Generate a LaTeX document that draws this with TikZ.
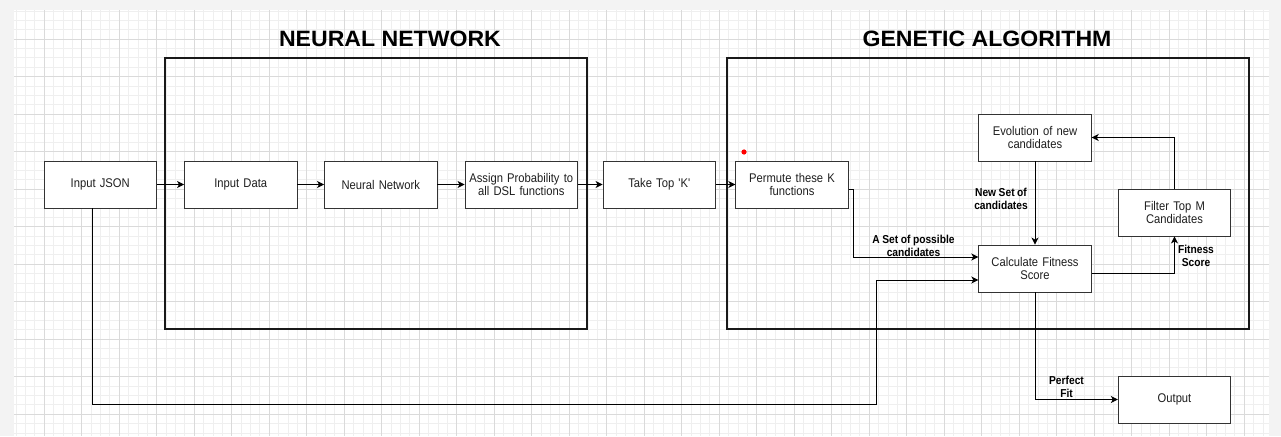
\documentclass[tikz,border=0pt]{standalone}
\usepackage{fontspec}
\setmainfont{Liberation Sans}
\newfontfamily\bodyfont[FakeStretch=0.89,WordSpace=0.89]{Liberation Sans}
\newfontfamily\ttlfont[FakeStretch=1.04]{Liberation Sans}
\usetikzlibrary{arrows.meta,calc}
\definecolor{outbg}{HTML}{F3F3F3}
\definecolor{minorg}{HTML}{EFEFEF}
\definecolor{majorg}{HTML}{DADADA}
\definecolor{boxline}{HTML}{333333}
\tikzset{
  blk/.style={rectangle,draw=boxline,line width=0.9pt,fill=white,minimum width=112.5pt,minimum height=47pt,inner sep=0pt,text width=110pt,align=center,font=\bodyfont\fontsize{12.6}{13}\selectfont,text=black!88},
  frame/.style={draw=black!90,line width=2pt},
  ttl/.style={font=\ttlfont\fontsize{22.2}{26}\selectfont\bfseries,inner sep=0pt},
  lbl/.style={font=\bodyfont\fontsize{11.5}{13}\selectfont\bfseries,align=center,inner sep=0pt},
  arr/.style={draw=black,line width=0.9pt,-{Stealth[length=7pt,width=7pt,inset=2pt]}},
}
\begin{document}
\begin{tikzpicture}[x=1pt,y=-1pt]
\useasboundingbox (0,0) rectangle (1281,436);
\fill[outbg] (0,0) rectangle (1281,436);
\fill[white] (14,10.5) rectangle (1269,436);
% grid
\foreach \i in {1,...,134} \draw[minorg,line width=0.5pt] ({6.5+9.375*\i},10.5) -- ({6.5+9.375*\i},436);
\foreach \j in {1,...,46} \draw[minorg,line width=0.5pt] (14,{1.5+9.375*\j}) -- (1269,{1.5+9.375*\j});
\foreach \i in {1,...,33} \draw[majorg,line width=0.7pt] ({6.5+37.5*\i},10.5) -- ({6.5+37.5*\i},436);
\foreach \j in {1,...,11} \draw[majorg,line width=0.7pt] (14,{1.5+37.5*\j}) -- (1269,{1.5+37.5*\j});

% frames and titles
\draw[frame] (165,58) rectangle (587,329);
\draw[frame] (726.5,58) rectangle (1249,329);
\node[ttl] (ttlnn) at (390,39) {NEURAL NETWORK};
\node[ttl] (ttlga) at (987,39) {GENETIC ALGORITHM};

% nodes
\node[blk] (json) at (100.25,184.5) {Input JSON};
\node[blk] (indata) at (240.75,184.5) {Input Data};
\node[blk] (nn) at (380.75,184.5) {Neural Network};
\node[blk] (assign) at (521.25,184.5) {Assign Probability to\\all DSL functions};
\node[blk] (topk) at (659.25,184.5) {Take Top 'K'};
\node[blk] (permute) at (792,184.5) {Permute these K\\functions};
\node[blk] (evo) at (1035,137.5) {Evolution of new\\candidates};
\node[blk] (calc) at (1035,268.5) {Calculate Fitness\\Score};
\node[blk] (filter) at (1174.5,212.5) {Filter Top M\\Candidates};
\node[blk] (output) at (1174.5,399.5) {Output};

\fill[red] (744,152) circle (2.6);

% connectors
\draw[arr] (json) -- (indata);
\draw[arr] (indata) -- (nn);
\draw[arr] (nn) -- (assign);
\draw[arr] (assign) -- (topk);
\draw[arr] (topk) -- (permute);

\coordinate (a1) at (853,189);
\coordinate (a2) at (853,257);
\draw[arr] (permute.east |- a1) -- (a1) -- (a2) -- (calc.west |- a2);

\coordinate (b1) at (92,404);
\coordinate (b2) at (876,404);
\coordinate (b3) at (876,280);
\draw[arr] (json.south -| b1) -- (b1) -- (b2) -- (b3) -- (calc.west |- b3);

\draw[arr] (evo) -- (calc);

\coordinate (c1) at (1174.5,273);
\draw[arr] (calc.east |- c1) -- (c1) -- (filter.south);

\draw[arr] (filter.north) |- (evo.east);
\draw[arr] (calc.south) |- (output.west);

% labels
\node[lbl] (la) at (913.5,245.5) {A Set of possible\\candidates};
\node[lbl] (lb) at (1001,199) {New Set of\\candidates};
\node[lbl] (lc) at (1196,255.5) {Fitness\\Score};
\node[lbl] (ld) at (1066.5,386.5) {Perfect\\Fit};
\end{tikzpicture}
\end{document}
